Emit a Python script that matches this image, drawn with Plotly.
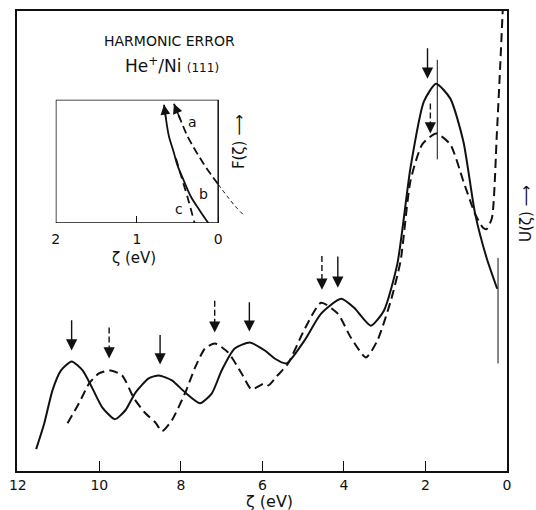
import plotly.graph_objects as go

# ---- main curves: U(zeta) vs zeta (eV), arbitrary units ----
solid_ev = [11.55, 11.35, 11.15, 10.94, 10.68, 10.41, 10.17, 9.93, 9.62, 9.36, 9.11, 8.79, 8.54,
            8.22, 7.90, 7.53, 7.24, 7.00, 6.68, 6.31, 5.94, 5.70, 5.41, 4.97, 4.56, 4.07, 3.75,
            3.34, 3.02, 2.69, 2.37, 2.04, 1.74, 1.39, 1.07, 0.78, 0.50, 0.24]
solid_u = [22, 48, 81, 101, 110, 101, 83, 64, 52, 61, 79, 93, 96,
           91, 79, 68, 78, 101, 123, 129, 121, 113, 108, 131, 158, 173, 164,
           146, 161, 208, 304, 371, 389, 374, 331, 258, 214, 183]

dashed_ev = [10.78, 10.50, 10.25, 10.01, 9.72, 9.44, 9.15, 8.87, 8.63, 8.46, 8.22, 7.90, 7.65,
             7.41, 7.16, 6.84, 6.51, 6.27, 6.05, 5.96, 5.85, 5.65, 5.37, 4.97, 4.56, 4.15, 3.83,
             3.46, 3.18, 2.85, 2.61, 2.37, 2.08, 1.74, 1.39, 1.07, 0.78, 0.58, 0.50, 0.37,
             0.25, 0.17, 0.11, 0.09]
dashed_u = [48, 68, 88, 98, 101, 96, 73, 58, 49, 40, 51, 78, 104,
            123, 128, 119, 98, 82, 86, 88, 86, 95, 108, 142, 169, 158, 134,
            114, 131, 171, 211, 291, 328, 339, 328, 291, 258, 244, 243, 254,
            338, 404, 458, 475]

# peak markers (arrows)
solid_arrow_ev = [10.68, 8.51, 6.32, 4.15, 1.95]
solid_arrow_tip = [121, 107, 140, 184, 394]
solid_arrow_tail = [153, 138, 171, 217, 426]
dashed_arrow_ev = [9.76, 7.17, 4.54, 1.88]
dashed_arrow_tip = [113, 139, 182, 339]
dashed_arrow_tail = [144, 171, 216, 369]

peak_line_ev = [1.71, 1.71]
peak_line_u = [313, 413]
edge_line_ev = [0.22, 0.22]
edge_line_u = [108, 214]

main_ticks = [12, 10, 8, 6, 4, 2, 0]

# ---- inset: F(zeta) ----
inset_a_ev = [0.545, 0.46, 0.376, 0.28, 0.182, 0.09, 0.0]
inset_a_f = [120, 103, 87, 73, 60, 49, 39]
inset_a_ext_ev = [0.0, -0.12, -0.22, -0.327]
inset_a_ext_f = [39, 26, 16, 7]
inset_b_ev = [0.667, 0.64, 0.606, 0.55, 0.497, 0.42, 0.339, 0.23, 0.121]
inset_b_f = [119, 103, 87, 72, 57, 42, 27, 13, 0]
inset_c_ev = [0.52, 0.48, 0.436, 0.36, 0.291]
inset_c_f = [65, 54, 42, 21, 0]
inset_ticks = [2, 1, 0]

FONT = "DejaVu Sans"
BLACK = "#111111"

fig = go.Figure()

fig.add_trace(go.Scatter(x=solid_ev, y=solid_u, mode="lines",
                         line=dict(color=BLACK, width=2, shape="spline", smoothing=0.6),
                         showlegend=False))
fig.add_trace(go.Scatter(x=dashed_ev, y=dashed_u, mode="lines",
                         line=dict(color=BLACK, width=2, dash="9px,5px", shape="spline", smoothing=0.6),
                         showlegend=False))
fig.add_trace(go.Scatter(x=peak_line_ev, y=peak_line_u, mode="lines",
                         line=dict(color=BLACK, width=1), showlegend=False))
fig.add_trace(go.Scatter(x=edge_line_ev, y=edge_line_u, mode="lines",
                         line=dict(color=BLACK, width=1), showlegend=False))

# inset traces
fig.add_trace(go.Scatter(x=inset_a_ev, y=inset_a_f, xaxis="x2", yaxis="y2", mode="lines",
                         line=dict(color=BLACK, width=1.8, dash="8px,4px", shape="spline"),
                         showlegend=False))
fig.add_trace(go.Scatter(x=inset_a_ext_ev, y=inset_a_ext_f, xaxis="x2", yaxis="y2", mode="lines",
                         line=dict(color=BLACK, width=1, dash="4px,3px", shape="spline"),
                         showlegend=False))
fig.add_trace(go.Scatter(x=inset_b_ev, y=inset_b_f, xaxis="x2", yaxis="y2", mode="lines",
                         line=dict(color=BLACK, width=1.8, shape="spline"),
                         showlegend=False))
fig.add_trace(go.Scatter(x=inset_c_ev, y=inset_c_f, xaxis="x2", yaxis="y2", mode="lines",
                         line=dict(color=BLACK, width=1.8, dash="8px,5px", shape="spline"),
                         showlegend=False))

annotations = []
shapes = []

# solid arrows
for ev, tip, tail in zip(solid_arrow_ev, solid_arrow_tip, solid_arrow_tail):
    annotations.append(dict(x=ev, y=tip, ax=ev, ay=tail, xref="x", yref="y", axref="x", ayref="y",
                            text="", showarrow=True, arrowhead=2, arrowsize=1.6,
                            arrowwidth=1.4, arrowcolor=BLACK))
# dashed arrows
for ev, tip, tail in zip(dashed_arrow_ev, dashed_arrow_tip, dashed_arrow_tail):
    shapes.append(dict(type="line", xref="x", yref="y", x0=ev, x1=ev, y0=tail, y1=tip + 6,
                       line=dict(color=BLACK, width=1.4, dash="6px,3px")))
    annotations.append(dict(x=ev, y=tip, ax=ev, ay=tip + 9, xref="x", yref="y", axref="x", ayref="y",
                            text="", showarrow=True, arrowhead=2, arrowsize=1.6,
                            arrowwidth=1.4, arrowcolor=BLACK))

# inset arrows at curve tips
annotations.append(dict(x=inset_a_ev[0], y=inset_a_f[0], ax=inset_a_ev[1], ay=inset_a_f[1],
                        xref="x2", yref="y2", axref="x2", ayref="y2", text="", showarrow=True,
                        arrowhead=2, arrowsize=1.4, arrowwidth=1.4, arrowcolor=BLACK))
annotations.append(dict(x=inset_b_ev[0], y=inset_b_f[0], ax=inset_b_ev[1], ay=inset_b_f[1],
                        xref="x2", yref="y2", axref="x2", ayref="y2", text="", showarrow=True,
                        arrowhead=2, arrowsize=1.4, arrowwidth=1.4, arrowcolor=BLACK))

# inset frame
shapes.append(dict(type="rect", xref="x2", yref="y2", x0=inset_ticks[0], x1=inset_ticks[-1],
                   y0=0, y1=124, line=dict(color=BLACK, width=1.5)))


def label(text, x, y, size, xref="paper", yref="paper", angle=0):
    return dict(text=text, x=x, y=y, xref=xref, yref=yref, showarrow=False,
                xanchor="center", yanchor="middle", textangle=angle,
                font=dict(family=FONT, size=size, color=BLACK))


annotations += [
    label("HARMONIC ERROR", 0.312, 0.935, 14),
    label("He<sup>+</sup>/Ni <span style='font-size:12px'>(111)</span>", 0.316, 0.882, 17),
    label("ζ (eV)", 0.239, 0.463, 15),
    label("F(ζ) ⟶", 0.452, 0.716, 15, angle=-90),
    label("U(ζ) ⟶", 1.04, 0.56, 15, angle=-90),
    label("ζ (eV)", 0.515, -0.066, 16),
    label("a", 0.315, 102, 14, "x2", "y2"),
    label("b", 0.18, 29, 14, "x2", "y2"),
    label("c", 0.485, 14, 14, "x2", "y2"),
]

fig.update_layout(
    width=536, height=510,
    margin=dict(l=14, r=29, t=9, b=39),
    paper_bgcolor="white", plot_bgcolor="white",
    font=dict(family=FONT, color=BLACK),
    showlegend=False,
    xaxis=dict(range=[12.02, 0], tickvals=main_ticks, ticktext=[str(t) for t in main_ticks],
               ticks="inside", ticklen=10, tickwidth=1.3, tickcolor=BLACK,
               showline=True, linecolor=BLACK, linewidth=1.8, mirror=True,
               showgrid=False, zeroline=False, tickfont=dict(size=14, color=BLACK)),
    yaxis=dict(range=[0, 462], showticklabels=False, ticks="", showline=True, linecolor=BLACK,
               linewidth=1.8, mirror=True, showgrid=False, zeroline=False),
    xaxis2=dict(domain=[0.0791, 0.4686], range=[2, -0.35], anchor="y2",
                tickvals=inset_ticks, ticktext=[str(t) for t in inset_ticks],
                ticks="inside", ticklen=7, tickwidth=1.3, tickcolor=BLACK,
                ticklabelstandoff=6,
                showline=False, showgrid=False, zeroline=False,
                tickfont=dict(size=14, color=BLACK)),
    yaxis2=dict(domain=[0.539, 0.807], range=[0, 124], anchor="x2", showticklabels=False,
                ticks="", showline=False, showgrid=False, zeroline=False),
    annotations=annotations,
    shapes=shapes,
)

fig.write_html("out.html")
